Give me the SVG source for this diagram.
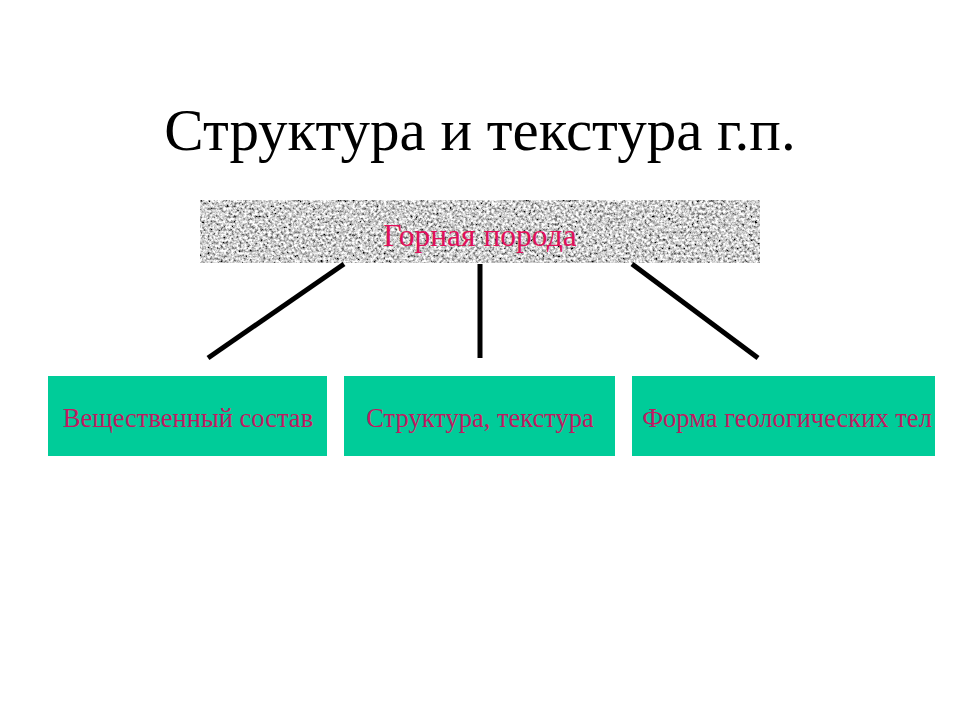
<svg xmlns="http://www.w3.org/2000/svg" width="960" height="720" viewBox="0 0 960 720">
<style>
.t{font-family:"Liberation Serif","Times New Roman",serif}
.lbl{font-size:26.5px;fill:#c01a62;text-anchor:middle}
.box{fill:#00cc99}
.conn{stroke:#000;stroke-width:5;fill:none}
</style>
<defs>
<filter id="granite" x="0" y="0" width="100%" height="100%" filterUnits="objectBoundingBox">
<feTurbulence type="fractalNoise" baseFrequency="0.38" numOctaves="3" seed="7" result="n"/>
<feColorMatrix in="n" type="matrix" values="2.0 0 0 0 -0.38  2.0 0 0 0 -0.38  2.0 0 0 0 -0.38  0 0 0 0 1"/>
</filter>
</defs>
<rect width="960" height="720" fill="#fff"/>
<text class="t" x="480" y="150" font-size="59" text-anchor="middle" fill="#000">Структура и текстура г.п.</text>
<g id="node-root">
<rect x="200" y="200" width="560" height="63" fill="#999" filter="url(#granite)"/>
<text class="t lbl" x="480" y="246" style="font-size:31.5px;fill:#e0105a">Горная порода</text>
</g>
<g id="connectors">
<line class="conn" x1="344" y1="264" x2="208" y2="358"/>
<line class="conn" x1="480" y1="264" x2="480" y2="358"/>
<line class="conn" x1="632" y1="264" x2="758" y2="358"/>
</g>
<g id="node-1">
<rect class="box" x="48" y="376" width="279" height="80"/>
<text class="t lbl" x="188" y="427">Вещественный состав</text>
</g>
<g id="node-2">
<rect class="box" x="344" y="376" width="271" height="80"/>
<text class="t lbl" x="480" y="427">Структура, текстура</text>
</g>
<g id="node-3">
<rect class="box" x="632" y="376" width="303" height="80"/>
<text class="t lbl" x="787" y="427">Форма геологических тел</text>
</g>
</svg>
